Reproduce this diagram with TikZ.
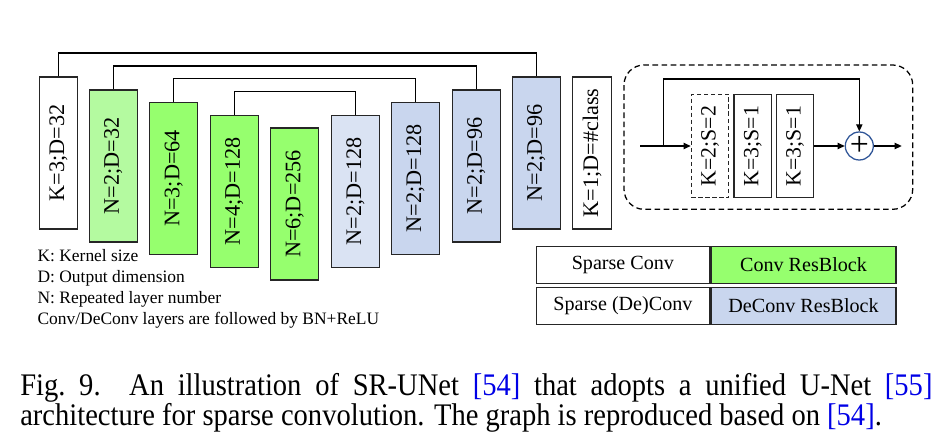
\documentclass[tikz,border=0pt]{standalone}
\usepackage{fontspec}
\setmainfont{Liberation Serif}
\usetikzlibrary{arrows.meta}
\definecolor{convgreen}{RGB}{150,255,110}
\definecolor{convlight}{RGB}{180,250,160}
\definecolor{deconvblue}{RGB}{201,214,238}
\definecolor{deconvlight}{RGB}{218,227,243}
\definecolor{sumblue}{RGB}{47,85,151}
\definecolor{citeblue}{RGB}{0,0,230}

\begin{document}
\begin{tikzpicture}[x=0.025cm, y=-0.025cm, >={Triangle[length=5pt, width=4.5pt]},
  layer/.style={draw=black!85, line width=0.9pt, inner sep=0pt, minimum height=3.8cm,
                font=\fontsize{15.8}{18}\selectfont},
  resconv/.style={draw=black!85, line width=0.9pt, inner sep=0pt, minimum width=0.935cm,
                  minimum height=2.59cm, font=\fontsize{15.5}{18}\selectfont},
  keybox/.style={draw=black!85, line width=0.8pt, inner sep=0pt, minimum height=0.915cm,
                 font=\fontsize{14.3}{17}\selectfont},
  note/.style={anchor=base west, inner sep=0pt, font=\fontsize{12.4}{15}\selectfont},
  caption/.style={anchor=base west, inner sep=0pt, font=\fontsize{20.3}{24}\selectfont},
  link/.style={line width=0.9pt}]

  \useasboundingbox (0,0) rectangle (944,446);

  \foreach \i/\lab/\col/\x/\y/\w in {1/K=3;D=32/white/58.5/153/0.95cm,
      2/N=2;D=32/convlight/113.3/166/1.2cm, 3/N=3;D=64/convgreen/173.7/178.5/1.2cm,
      4/N=4;D=128/convgreen/234.3/191.3/1.2cm, 5/N=6;D=256/convgreen/294.7/204/1.2cm,
      6/N=2;D=128/deconvlight/355.5/191.3/1.2cm, 7/N=2;D=128/deconvblue/415.5/178.5/1.2cm,
      8/N=2;D=96/deconvblue/476.2/166/1.2cm, 9/N=2;D=96/deconvblue/536.2/153/1.2cm,
      10/K=1;D=\#class/white/592/153/0.97cm}{
    \node[layer, fill=\col, minimum width=\w] (b\i) at (\x,\y) {\rotatebox{90}{\lab}};
  }
  \foreach \a/\b in {1/9, 2/8, 3/7, 4/6}
    \draw[link] (b\a.north) -- ++(0,-23.3) -| (b\b.north);

  \draw[link, dash pattern=on 4pt off 2.5pt, rounded corners=0.5cm] (624,65) rectangle (912.7,209.3);
  \node[resconv, dash pattern=on 3pt off 2pt] (ka) at (710,146) {\rotatebox{90}{K=2;S=2}};
  \node[resconv] (kb) at (752.8,146) {\rotatebox{90}{K=3;S=1}};
  \node[resconv] (kc) at (795,146) {\rotatebox{90}{K=3;S=1}};
  \node[circle, draw=sumblue, line width=0.9pt, minimum size=0.7cm, inner sep=0pt,
        font=\fontsize{24}{24}\selectfont] (sum) at (859.3,146) {+};
  \coordinate (in) at (640,146);
  \coordinate (split) at (663.3,146);
  \coordinate (out) at (901.7,146);
  \draw[link, ->] (in) -- (ka);
  \draw[link, ->] (split) -- ++(0,-67) -| (sum);
  \draw[link, ->] (kc) -- (sum);
  \draw[link, ->] (sum) -- (out);

  \node[keybox, minimum width=4.31cm] (sconv) at (622.9,265) {Sparse Conv};
  \node[keybox, fill=convgreen, minimum width=4.625cm] (cres) at (803.5,265) {Conv ResBlock};
  \node[keybox, minimum width=4.31cm] (sdeconv) at (622.9,306) {Sparse (De)Conv};
  \node[keybox, fill=deconvblue, minimum width=4.625cm] (dres) at (803.5,306) {DeConv ResBlock};

  \foreach \t [count=\k] in {K: Kernel size, D: Output dimension, N: Repeated layer number,
      Conv/DeConv layers are followed by BN+ReLU}
    \node[note] (note\k) at (37.3, 240.9+20.8*\k) {\t};

  \node[caption] (cap1) at (20,395) {\scalebox{1}[1.1]{\hbox to 22.8cm{Fig.~9.\quad An illustration
    of SR-UNet \textcolor{citeblue}{[54]} that adopts a unified U-Net \textcolor{citeblue}{[55]}}}};
  \node[caption] (cap2) at (20,425) {\scalebox{1}[1.1]{architecture for sparse convolution. The
    graph is reproduced based on \textcolor{citeblue}{[54]}.}};
\end{tikzpicture}
\end{document}
